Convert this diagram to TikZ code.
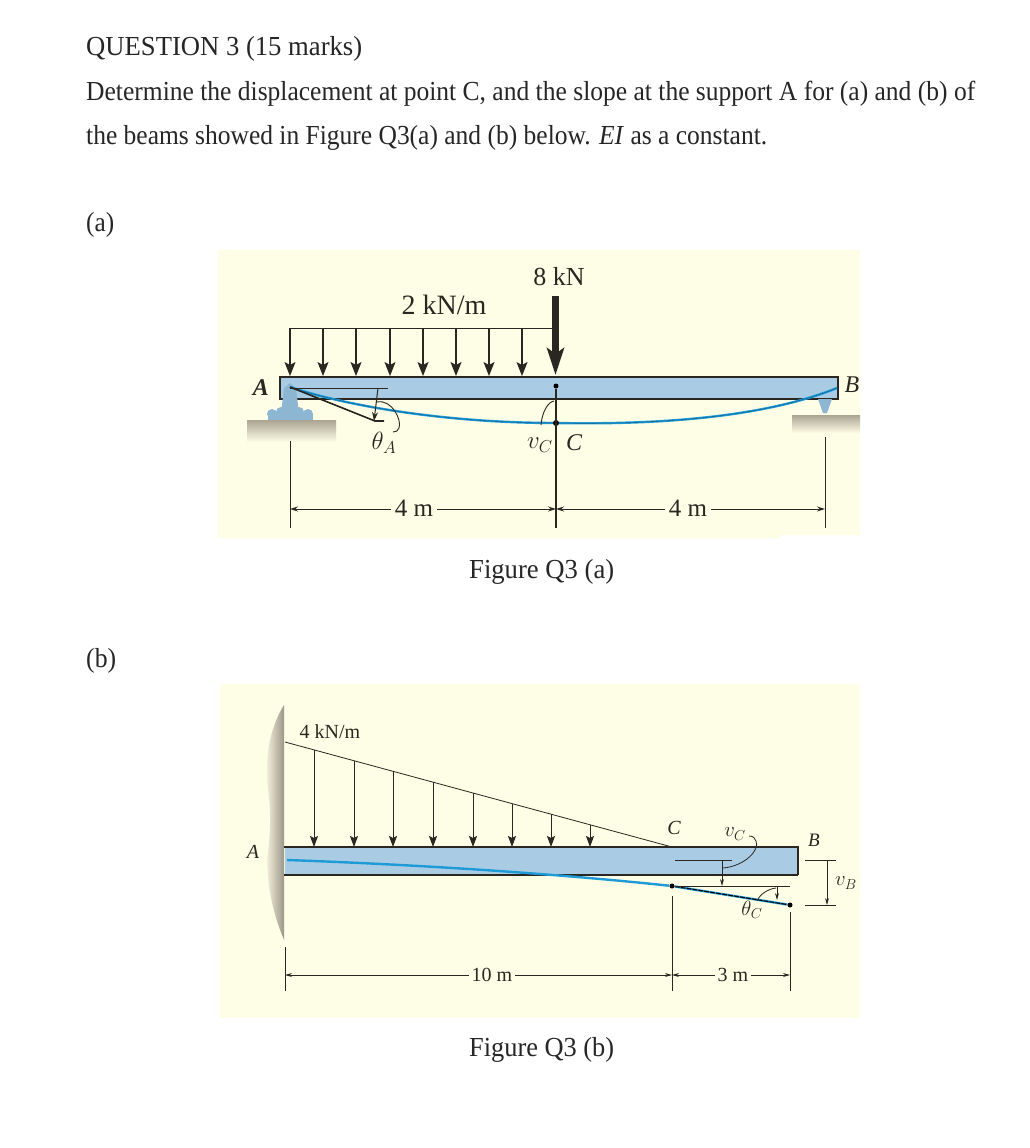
\documentclass[tikz,border=0pt]{standalone}
\usepackage{fontspec}
\usepackage{graphicx}
\setmainfont{Liberation Serif}
\usetikzlibrary{arrows.meta,shadings}
\definecolor{cream}{HTML}{FEFDE5}
\definecolor{beamblue}{HTML}{A9CCE4}
\definecolor{curveblue}{HTML}{1E9BD7}
\definecolor{curvedark}{HTML}{14608C}
\definecolor{inkc}{HTML}{2A2622}
\definecolor{groundc}{HTML}{ABA493}
\definecolor{wallc}{HTML}{9C968A}
\definecolor{pinblue}{HTML}{8DB6D2}
\newcommand{\fs}[1]{\fontsize{#1}{#1}\selectfont}
\newcommand{\fitw}[2]{\resizebox{#1pt}{\height}{#2}}
\tikzset{
 x=1pt,y=-1pt,
 panel/.style={fill=cream,draw=none},
 beam/.style={fill=beamblue,draw=inkc,line width=1.6pt},
 load/.style={draw=inkc,line width=1.1pt,-{Stealth[length=14pt,width=11pt,inset=3pt]}},
 loadb/.style={draw=inkc,line width=.9pt,-{Stealth[length=11pt,width=8pt,inset=2pt]}},
 rail/.style={draw=inkc,line width=1pt},
 thin rail/.style={draw=inkc,line width=.8pt},
 dima/.style={draw=inkc,line width=1pt,-{Stealth[length=8pt,width=5pt]}},
 dim/.style={draw=inkc,line width=.8pt,-{Stealth[length=7pt,width=4pt]}},
 defl/.style={draw=curveblue,line width=2.4pt},
 pt/.style={circle,fill=black,inner sep=0pt,minimum size=6pt},
 body/.style={anchor=base west,inner sep=0pt,text=black!85,font=\fs{27.5}},
 lab/.style={inner sep=0pt,text=inkc},
 laba/.style={lab,font=\fs{25}},
 labb/.style={lab,font=\fs{20}},
}
\begin{document}
\begin{tikzpicture}
\useasboundingbox (0,0) rectangle (1030,1148);
\fill[white] (0,0) rectangle (1030,1148);
% text
\node[body] (title) at (86,56) {\fitw{276}{QUESTION 3 (15 marks)}};
\node[body] (line1) at (86,100) {\fitw{889}{Determine the displacement at point C, and the slope at the support A for (a) and (b) of}};
\node[body] (line2) at (86,144) {\fitw{681}{the beams showed in Figure Q3(a) and (b) below. \textit{EI} as a constant.}};
\node[body] (parta) at (86,231) {\fitw{28}{(a)}};
\node[body] (partb) at (86,667) {\fitw{30}{(b)}};
\node[body] (capa) at (469,578) {\fitw{145}{Figure Q3 (a)}};
\node[body] (capb) at (469,1056) {\fitw{145}{Figure Q3 (b)}};

% ---------- Figure (a)
\fill[panel] (218,250) -- (860,250) -- (860,535) -- (780,535) -- (780,538) -- (218,538) -- cycle;
% ground
\shade[top color=groundc,bottom color=cream,draw=none] (247,420) rectangle (336,442);
\shade[top color=groundc,bottom color=cream,draw=none] (792,415) rectangle (860,433);
\node[beam,minimum width=558pt,minimum height=22pt,inner sep=0pt,anchor=north west] (beamA) at (279,376) {};
% supports
\fill[pinblue] (284,388) -- (290,383) -- (296,388) -- (298,405) -- (299,420) -- (281,420) -- (282,405) -- cycle;
\fill[pinblue] (272,414) circle (5pt) (281,412) circle (5pt) (299,412) circle (5pt) (308,414) circle (5pt);
\fill[pinblue] (268,414) rectangle (313,420);
\fill[pinblue] (818,399) -- (832,399) -- (827,413) -- (823,413) -- cycle;
% UDL
\coordinate (ua) at (290,328); \coordinate (ub) at (553,328);
\draw[rail] (ua) -- (ub);
\foreach \n/\xx in {1/290,2/323,3/356,4/390,5/423,6/456,7/489,8/522}{
 \coordinate (t\n) at (\xx,328); \coordinate (h\n) at (\xx,376);
 \draw[load] (t\n) -- (h\n);
}
\coordinate (pt) at (555.5,296); \coordinate (ph) at (555.5,375);
\draw[draw=inkc,line width=6.5pt,-{Stealth[length=27pt,width=17pt,inset=6pt]}] (pt) -- (ph);
% deflection
\coordinate (aA) at (290,387); \coordinate (aB) at (837,388);
\coordinate (aC) at (556,423);
\draw[defl] (aA) .. controls (350,407) and (450,423) .. (aC) .. controls (660,425) and (765,417) .. (aB);
\draw[draw=curvedark,line width=.5pt] (aA) .. controls (350,407) and (450,423) .. (aC) .. controls (660,425) and (765,417) .. (aB);
% theta A
\coordinate (tA) at (375,421); \coordinate (tAe) at (384,421); \coordinate (hA) at (388,388);
\coordinate (hA0) at (290,388); \coordinate (vA) at (378,388); \coordinate (vAe) at (374,421);
\draw[rail] (hA0) -- (hA);
\draw[draw=inkc,line width=1.6pt] (aA) -- (tA) -- (tAe);
\draw[draw=inkc,line width=1pt,-{Stealth[length=9pt,width=6pt]}] (vA) -- (vAe);
\draw[inkc,line width=.9pt] (377,402) .. controls (392,399) and (402,420) .. (399,428) .. controls (398,431) and (396,432) .. (393,432);
% C
\node[pt,minimum size=5pt] (c1) at (556,386) {};
\node[pt] (c2) at (aC) {};
\coordinate (cE) at (556,528);
\draw[draw=inkc,line width=1.4pt] (c1) -- (cE);
\draw[inkc,line width=.9pt] (541,425) .. controls (542,412) and (548,402) .. (554,401);
% dimensions a
\coordinate (e1a) at (290,441); \coordinate (e1b) at (290,528);
\coordinate (e2a) at (825,437); \coordinate (e2b) at (825,528);
\draw[rail] (e1a) -- (e1b);
\draw[rail] (e2a) -- (e2b);
\node[laba] (d4a) at (414,508) {4 m};
\node[laba] (d4b) at (688,508) {4 m};
\coordinate (dy1) at (290,509); \coordinate (dy2) at (556,509); \coordinate (dy3) at (825,509);
\draw[dima,shorten <=4pt] (d4a.west |- dy1) -- (dy1);
\draw[dima,shorten <=4pt] (d4a.east |- dy1) -- (dy2);
\draw[dima,shorten <=4pt] (d4b.west |- dy1) -- (dy2);
\draw[dima,shorten <=4pt] (d4b.east |- dy1) -- (dy3);
% labels a
\node[laba,font=\fs{26}] (l8) at (559,277) {8 kN};
\node[laba,font=\fs{28}] (l2) at (444,305) {2 kN/m};
\node[laba,font=\fs{24}\bfseries\itshape] (lA) at (261,388) {A};
\node[laba,font=\fs{24}\itshape] (lB) at (852,385) {B};
\node[laba,font=\fs{24}\itshape] (lC) at (574,443) {C};
\node[laba] (lth) at (384,443) {$\theta_A$};
\node[laba] (lv) at (540,445) {$v_C$};

% ---------- Figure (b)
\fill[panel] (220,684) rectangle (860,1018);
% wall
\shade[left color=cream,right color=wallc,draw=none] (284,705) .. controls (272,725) and (264,750) .. (268,790) .. controls (271,810) and (271,830) .. (267,860) .. controls (268,900) and (278,925) .. (284,940) -- cycle;
\node[beam,minimum width=514pt,minimum height=27pt,inner sep=0pt,anchor=north west,draw=none] (beamB) at (284,847) {};
\coordinate (btl) at (284,847); \coordinate (btr) at (798,847);
\coordinate (bbl) at (284,875); \coordinate (bbr) at (798,875);
\draw[draw=inkc,line width=1.2pt] (btl) -- (btr) -- (bbr);
\draw[draw=inkc,line width=1.8pt] (bbr) -- (bbl);
% load
\coordinate (la) at (285,742); \coordinate (lb) at (672,847);
\draw[thin rail] (la) -- (lb);
\foreach \n/\xx in {1/314,2/354,3/393,4/433,5/473,6/512,7/551,8/590}{
 \pgfmathsetmacro{\yy}{742+(\xx-285)*0.2713}
 \coordinate (bt\n) at (\xx,\yy); \coordinate (bh\n) at (\xx,847);
 \draw[loadb] (bt\n) -- (bh\n);
}
% deflection
\node[pt,minimum size=5pt] (bC) at (672,886) {};
\node[pt,minimum size=5pt] (bE) at (790,905) {};
\coordinate (bS) at (287,860);
\draw[defl] (bS) .. controls (400,864) and (540,872) .. (bC) -- (bE);
\draw[draw=black,line width=1.1pt,dash pattern=on 5pt off 1pt] (bC) -- (bE);
\coordinate (hC) at (790,886);
\draw[thin rail] (bC) -- (hC);
\coordinate (tl) at (675,860); \coordinate (tr) at (732,860);
\draw[thin rail] (tl) -- (tr);
\coordinate (va) at (722,860); \coordinate (vb) at (722,886);
\draw[dim] (va) -- (vb);
\draw[inkc,line width=.8pt] (723,868) .. controls (745,866) and (760,850) .. (756,841) .. controls (755,838) and (753,836) .. (749,836);
\coordinate (ta) at (777,886); \coordinate (tb) at (777,900);
\draw[dim] (ta) -- (tb);
\draw[inkc,line width=.8pt] (757,901) .. controls (760,894) and (768,889) .. (776,888);
% vB
\coordinate (ba1) at (805,860); \coordinate (ba2) at (836,860);
\coordinate (bb1) at (805,905); \coordinate (bb2) at (836,905);
\coordinate (bm1) at (827,860); \coordinate (bm2) at (827,905);
\draw[thin rail] (ba1) -- (ba2);
\draw[thin rail] (bb1) -- (bb2);
\draw[dim] (bm1) -- (bm2);
% dims b
\coordinate (x1a) at (285,947); \coordinate (x1b) at (285,991);
\coordinate (x2a) at (672,896); \coordinate (x2b) at (672,991);
\coordinate (x3a) at (790,912); \coordinate (x3b) at (790,991);
\draw[thin rail] (x1a) -- (x1b);
\draw[thin rail] (x2a) -- (x2b);
\draw[thin rail] (x3a) -- (x3b);
\node[labb] (d10) at (492,975) {10 m};
\node[labb] (d3) at (733,975) {3 m};
\coordinate (z1) at (285,975); \coordinate (z2) at (672,975); \coordinate (z3) at (790,975);
\draw[dim,shorten <=3pt] (d10.west |- z1) -- (z1);
\draw[dim,shorten <=3pt] (d10.east |- z1) -- (z2);
\draw[dim,shorten <=3pt] (d3.west |- z1) -- (z2);
\draw[dim,shorten <=3pt] (d3.east |- z1) -- (z3);
% labels b
\node[labb] (l4) at (330,732) {4 kN/m};
\node[labb,font=\fs{20}\itshape] (bA) at (253,852) {A};
\node[labb,font=\fs{20}\itshape] (bCl) at (674,828) {C};
\node[labb,font=\fs{19}\itshape] (bB) at (814,840) {B};
\node[labb] (bvc) at (735,834) {$v_C$};
\node[labb] (bvb) at (846,883) {$v_B$};
\node[labb] (bth) at (752,910) {$\theta_C$};
\end{tikzpicture}
\end{document}
